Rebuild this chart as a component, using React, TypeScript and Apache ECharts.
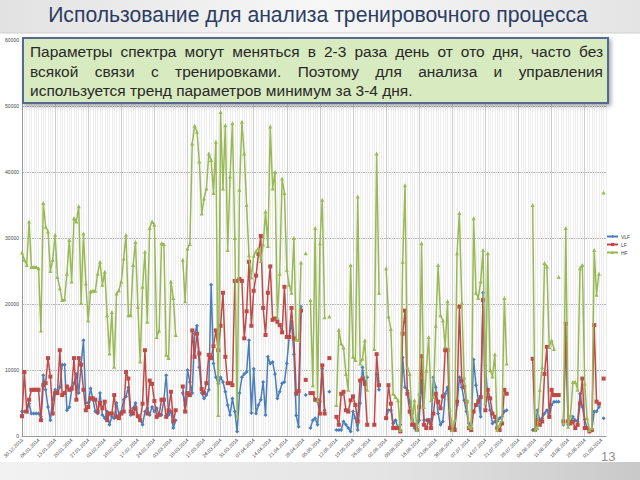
import React, { useEffect, useRef } from "react";
import * as echarts from "echarts";

// ---- data ----
const START = { y: 2013, m: 12, d: 30 };
const DAY_COUNT = 248;
const seriesNames = ["VLF", "LF", "HF"];
const seriesColors = ["#4a7ebb", "#be4b48", "#98b954"];
const seriesSymbols = ["diamond", "rect", "triangle"];
const yTicks = { min: 0, max: 60000, interval: 10000 };

const n = null;
const hf = [
  27800, 26700, 25900, 32500, 25600, 25600, 25600, 25400, 16000, 35300,
  31700, 31000, 25000, 26700, 30500, 24100, 22400, 20600, 20700, 24600,
  29700, 23400, 33000, 32500, 34800, 20200, 30700, 23100, 17500, 21900,
  22000, 22000, 24600, 26400, 22900, 24900, 18300, 12500, 18800, 10500,
  21600, 22100, 23400, 26900, 30500, 18300, 18300, 25900, 29400, 19600,
  11300, 22600, 27900, 17300, 31500, 32500, 32000, 15000, 16000, 29200,
  29100, 12300, 11800, 23400, 20900, 15300, n, n, 26700, 20400,
  28400, 29100, 44300, 47000, 46100, 41600, 33700, 36000, 37500, 42800,
  41800, 36800, 44600, 3200, 49100, 37500, 47100, 28200, 39300, 47400,
  30000, 3000, 37300, 47600, 42800, 35000, 27400, 24000, 27300, 28000,
  28500, 26500, 29000, 34000, 28800, 46900, 37500, 40000, 17900, 24600,
  39000, 36800, 25200, 22900, 21700, 30000, 14600, 14600, 26300, n,
  27700, n, 20600, 7700, 31500, 5400, 29200, 35800, 18000, n,
  18100, n, n, 4700, 16100, 14000, 13400, 9400, 7000, 25900,
  12000, 11500, 36300, 11000, 11700, 14500, 7000, n, n, 13200,
  42800, 21700, n, n, 25400, 18100, 16200, 6400, 5900, 5400,
  900, 26400, 38000, 10400, 9400, 2400, 5400, 900, 6400, 29200,
  4400, 9900, 15000, 5400, 5900, 16700, 25900, 18300, 17500, 13600,
  20400, 4000, 900, 2400, 27700, 33800, 20200, 8900, 5400, 1400,
  1200, 33000, 21700, 20900, 23400, 28200, 5000, 27700, 10000, 9000,
  12400, 900, 1700, 2400, 20900, 11000, n, n, n, n,
  n, n, n, n, n, n, 35000, 900, 1200, 7000,
  10400, 26200, 25700, 13500, 14500, 13200, n, 24100, n, 1900,
  31500, 1400, 3200, 8200, 8200, 7000, 25400, 25900, 7900, 2700,
  900, 1200, 28200, 21400, 24600, n, 36900, n,
];
const lf = [
  3000, 9700, 3700, 5500, 7000, 7000, 7000, 7000, 2400, 7700,
  8000, 11800, 9000, 3400, 6500, 6500, 13000, 6200, 6500, 7500,
  7000, 7200, 11800, 5500, 11800, 10800, 7000, 3900, 4400, 5700,
  5700, 5500, 3700, 5000, 4200, 5200, 2400, 3400, 3400, 6200,
  2900, 2700, 3400, 3700, 9700, 8700, 3700, 3400, 4200, 3000,
  2400, 4900, 13000, 3400, 8400, 7900, 5300, 2900, 3200, 5500,
  5500, 2900, 3900, 6700, 2200, 3900, n, n, 7500, 3700,
  6500, 6200, 16000, 12000, 15500, 12500, 7100, 6500, 8000, 12300,
  11800, 13600, 16000, 13000, 16700, 21700, 12000, 8000, 8000, 7700,
  23500, 23500, 23800, 23500, 14800, 18900, 26400, 16700, 22000, 24300,
  27600, 30300, 19400, 15300, 21700, 25700, 17600, 17800, 17300, 16800,
  15700, 22600, 15000, 15000, 19400, 14800, 6400, 6800, 19000, n,
  8500, n, 6500, 6500, 5500, 5400, 3400, 10700, 3400, n,
  11800, n, n, 2900, 1700, 6400, 6700, 3900, 3700, 5400,
  6000, 4700, 2200, 8400, 8700, 7900, 1700, n, n, 1700,
  12400, 7700, n, n, 2700, 7700, 4900, 1200, 1200, 1200,
  700, 15500, 19000, 6400, 3700, 1700, 1700, 900, 4400, 12100,
  1700, 1200, 2400, 1200, 3400, 6400, 5200, 4200, 6000, 13000,
  13000, 1200, 900, 900, 5200, 19600, 8400, 7400, 5200, 1200,
  900, 3700, 4700, 5200, 5900, 20600, 3900, 7000, 5700, 3400,
  2900, 1200, 900, 1900, 7000, 6400, n, n, n, n,
  n, n, n, n, n, n, 11700, 900, 2400, 1700,
  2200, 9400, 13500, 2900, 7000, 6200, 6200, 6200, n, 2200,
  17000, 2200, 1900, 2200, 1200, 1700, 4900, 8700, 1200, 1200,
  700, 900, 16800, 5200, 4900, n, 8700, n,
];
const vlf = [
  3700, 3700, 3700, 4900, 3400, 3400, 3400, 3400, 2900, 9200,
  7000, 4400, 2400, 5500, 7000, 6500, 7400, 10800, 10800, 3900,
  4400, 7000, 8000, 9400, 6500, 10800, 14500, 5000, 5000, 7200,
  5500, 3700, 3400, 6500, 3200, 2700, 3700, 1700, 2900, 2700,
  5000, 3200, 3700, 5500, 6000, 7400, 3200, 4200, 5000, 2900,
  2400, 1700, 3700, 4200, 3200, 4400, 3700, 4200, 3200, 3200,
  5500, 9200, 3200, 3700, 1200, 2400, n, n, 6500, 4700,
  10000, 8200, 6500, 15500, 16700, 10400, 6500, 5700, 6200, 7000,
  22900, 11000, 8900, 7900, 8900, 8200, 6700, 4700, 3200, 5700,
  3700, 700, 6500, 8900, 9400, 9700, 14500, 3500, 10200, 3400,
  4700, 5500, 8200, 3200, 12000, 11000, 11200, 9400, 5700, 6700,
  8000, 8200, 11000, 15000, 17300, 12400, 3100, 1400, 19600, n,
  6200, n, 1200, 2400, 2700, 1700, 5200, 10200, 3900, n,
  6700, n, n, 900, 900, 900, 2200, 1700, 1200, 700,
  3700, 2700, 900, 5000, 10400, 7900, 8900, n, n, n,
  9400, 7000, n, n, 2700, 3900, 3900, 1900, 2400, 1200,
  1700, 11900, 7400, 6900, 5200, 3400, 1200, 1400, 2400, 8400,
  2400, 2400, 2400, 1700, 8900, 7400, 3400, 1700, 2200, 6400,
  7400, 1200, 900, 1200, 4700, 8900, 7400, 5400, 3700, 1900,
  1200, 11600, 7700, 5500, 2900, 21700, 10700, 5900, 3900, 1900,
  2200, 2200, 2700, 2900, 3700, 3900, n, n, n, n,
  n, n, n, n, n, n, 900, 900, 3900, 2400,
  2700, 3400, 3900, 2900, 4700, 5200, 5200, 5200, n, 1700,
  15000, 1700, 2200, 2900, 2400, 2200, 6400, 4400, 2500, 1200,
  700, 900, 3700, 3700, 4400, n, 2700, n,
];
const seriesData = [vlf, lf, hf];

const TITLE = "Использование для анализа тренировочного процесса";
const NOTE_LINES = [
  "Параметры спектра могут меняться в 2-3 раза день от ото дня, часто без",
  "всякой связи с тренировками. Поэтому для анализа и управления",
  "используется тренд параметров минимум за 3-4 дня.",
];
const PAGE_NO = "13";

function buildDates(): string[] {
  const out: string[] = [];
  const base = Date.UTC(START.y, START.m - 1, START.d);
  for (let i = 0; i < DAY_COUNT; i++) {
    const dt = new Date(base + i * 86400000);
    const dd = String(dt.getUTCDate()).padStart(2, "0");
    const mm = String(dt.getUTCMonth() + 1).padStart(2, "0");
    out.push(`${dd}.${mm}.${dt.getUTCFullYear()}`);
  }
  return out;
}

const FONT = "Liberation Sans";

export default function App() {
  const ref = useRef<HTMLDivElement>(null);
  useEffect(() => {
    if (!ref.current) return;
    const chart = echarts.init(ref.current, null, { renderer: "svg" });
    const dates = buildDates();

    const cv = document.createElement("canvas");
    const ctx = cv.getContext("2d")!;
    const measure = (t: string, s: number) => {
      ctx.font = `${s}px "${FONT}"`;
      return ctx.measureText(t).width;
    };
    const titleSize = (20 * 540) / measure(TITLE, 20);
    const noteSize = (20 * 383) / measure(NOTE_LINES[2], 20);

    const noteX0 = 30;
    const noteX1 = 603;
    const lineYs = [51, 71, 90];
    const txtStyle = (text: string, size: number, fill: string, align: string) => ({
      text,
      fontSize: size,
      fontFamily: FONT,
      fill,
      textAlign: align,
      align,
      textVerticalAlign: "middle",
      verticalAlign: "middle",
    });
    const noteEls: any[] = [];
    NOTE_LINES.forEach((line, li) => {
      if (li < 2) {
        const words = line.split(" ");
        const ws = words.map((w) => measure(w, noteSize));
        const total = ws.reduce((a, b) => a + b, 0);
        const gap = (noteX1 - noteX0 - total) / (words.length - 1);
        let x = noteX0;
        words.forEach((w, i) => {
          noteEls.push({ type: "text", x, y: lineYs[li], z: 101, style: txtStyle(w, noteSize, "#282828", "left") });
          x += ws[i] + gap;
        });
      } else {
        noteEls.push({ type: "text", x: noteX0, y: lineYs[li], z: 101, style: txtStyle(line, noteSize, "#282828", "left") });
      }
    });

    const option: any = {
      animation: false,
      backgroundColor: "#ffffff",
      textStyle: { fontFamily: FONT },
      graphic: [
        {
          type: "rect",
          z: -10,
          shape: { x: 0, y: 0, width: 640, height: 33 },
          style: {
            fill: new echarts.graphic.LinearGradient(0, 0, 1, 0, [
              { offset: 0, color: "#e2e2e2" },
              { offset: 0.5, color: "#f7f7f7" },
              { offset: 1, color: "#e4e4e4" },
            ]),
          },
        },
        {
          type: "line",
          z: -9,
          shape: { x1: 0, y1: 33, x2: 640, y2: 33 },
          style: { stroke: "#cfcfcf", lineWidth: 1 },
        },
        {
          type: "rect",
          z: -10,
          shape: { x: 0, y: 462, width: 640, height: 18 },
          style: {
            fill: new echarts.graphic.LinearGradient(0, 0, 1, 0, [
              { offset: 0, color: "#f2f2f2" },
              { offset: 0.6, color: "#e4e4e4" },
              { offset: 1, color: "#c9c9c9" },
            ]),
          },
        },
        { type: "text", x: 318, y: 14, z: 50, style: txtStyle(TITLE, titleSize, "#2b3d63", "center") },
        {
          type: "rect",
          z: 100,
          shape: { x: 23, y: 38, width: 585, height: 65 },
          style: {
            fill: "#d8eabf",
            stroke: "#56698e",
            lineWidth: 2,
            shadowBlur: 4,
            shadowOffsetX: 2,
            shadowOffsetY: 2,
            shadowColor: "rgba(0,0,0,0.35)",
          },
        },
        ...noteEls,
        { type: "text", x: 601, y: 456, z: 50, style: txtStyle(PAGE_NO, 13, "#8f8f8f", "left") },
      ],
      legend: {
        orient: "vertical",
        left: 606,
        top: 234,
        itemWidth: 11,
        itemHeight: 4,
        itemGap: 3,
        padding: 0,
        textStyle: { fontSize: 5, color: "#444", fontFamily: FONT, padding: [0, 0, 0, -2] },
        data: seriesNames,
      },
      grid: { left: 22, right: 34, top: 40, bottom: 44 },
      xAxis: [
        {
          type: "category",
          data: dates,
          boundaryGap: false,
          axisLine: { lineStyle: { color: "#9a9a9a" } },
          axisTick: { show: false },
          axisLabel: { interval: 6, rotate: 45, fontSize: 5, color: "#444", margin: 3, fontFamily: FONT },
          splitLine: { show: true, interval: 0, lineStyle: { color: "#ededed", width: 1 } },
        },
        {
          type: "category",
          data: dates,
          boundaryGap: false,
          position: "bottom",
          axisLine: { show: false },
          axisTick: { show: false },
          axisLabel: { show: false },
          splitLine: { show: true, interval: 13, lineStyle: { color: "#cdcdcd", width: 1 } },
        },
      ],
      yAxis: {
        type: "value",
        min: yTicks.min,
        max: yTicks.max,
        interval: yTicks.interval,
        axisLine: { show: true, lineStyle: { color: "#9a9a9a" } },
        axisTick: { show: false },
        axisLabel: { fontSize: 5, color: "#444", margin: 3, fontFamily: FONT, formatter: (v: number) => String(v) },
        splitLine: { lineStyle: { color: "#b4b4b4", width: 1 } },
      },
      series: seriesNames.map((name, i) => ({
        name,
        type: "line",
        data: seriesData[i],
        xAxisIndex: 0,
        symbol: seriesSymbols[i],
        symbolSize: 4,
        showAllSymbol: true,
        connectNulls: false,
        z: 2 + i,
        lineStyle: { width: 1.5, color: seriesColors[i] },
        itemStyle: { color: seriesColors[i] },
      })),
    };
    chart.setOption(option);
    return () => chart.dispose();
  }, []);
  return <div ref={ref} style={{ width: 640, height: 480, position: "absolute", left: 0, top: 0 }} />;
}
